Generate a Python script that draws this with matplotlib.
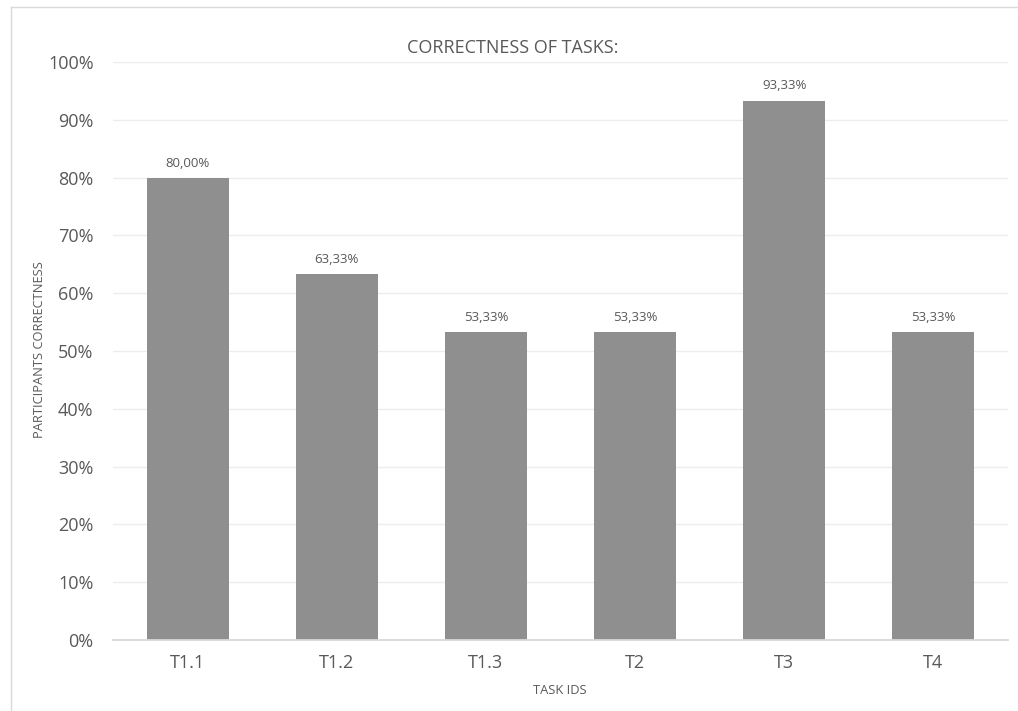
import matplotlib.pyplot as plt
from matplotlib.lines import Line2D

tasks = ["T1.1", "T1.2", "T1.3", "T2", "T3", "T4"]
correctness = [80.00, 63.33, 53.33, 53.33, 93.33, 53.33]
y_ticks = [0, 10, 20, 30, 40, 50, 60, 70, 80, 90, 100]

plt.rcParams['font.family'] = ['Open Sans', 'DejaVu Sans']
txt = '#595959'

fig = plt.figure(figsize=(10.18, 7.11), dpi=100)
ax = fig.add_axes([113 / 1018, 1 - 640 / 711, 895 / 1018, 578 / 711])

x = list(range(len(tasks)))
ax.bar(x, correctness, width=0.55, color='#8f8f8f', zorder=3)
for xi, v in zip(x, correctness):
    ax.annotate(f"{v:.2f}%".replace('.', ','), (xi, v), xytext=(0, 10.5),
                textcoords='offset points', ha='center', va='center',
                fontsize=9.5, color=txt)

ax.set_xlim(-0.5, len(tasks) - 0.5)
ax.set_ylim(0, 100)
ax.set_yticks(y_ticks)
ax.set_yticklabels([f"{t}%" for t in y_ticks], fontsize=13, color=txt)
ax.set_xticks(x)
ax.set_xticklabels(tasks, fontsize=13, color=txt)
ax.tick_params(length=0, axis='y', pad=14)
ax.tick_params(length=0, axis='x', pad=10)
ax.yaxis.grid(True, color='#ededed', linewidth=1, zorder=0)
for s in ['top', 'right', 'left']:
    ax.spines[s].set_visible(False)
ax.spines['bottom'].set_color('#d9d9d9')
ax.spines['bottom'].set_linewidth(1.3)
ax.spines['bottom'].set_zorder(4)

fig.text(513 / 1018, 1 - 48 / 711, "CORRECTNESS OF TASKS:", ha='center', va='center',
         fontsize=13, color=txt)
fig.text(560 / 1018, 1 - 690 / 711, "TASK IDS", ha='center', va='center',
         fontsize=9.3, color=txt)
fig.text(40 / 1018, 1 - 350 / 711, "PARTICIPANTS CORRECTNESS", ha='center', va='center',
         rotation=90, fontsize=9.3, color=txt)

# chart area border
fig.add_artist(Line2D([11 / 1018, 11 / 1018], [0, 1 - 7 / 711], color='#d9d9d9',
                      linewidth=1, transform=fig.transFigure))
fig.add_artist(Line2D([11 / 1018, 1], [1 - 7 / 711, 1 - 7 / 711], color='#d9d9d9',
                      linewidth=1, transform=fig.transFigure))

fig.savefig('out.png', dpi=100)
